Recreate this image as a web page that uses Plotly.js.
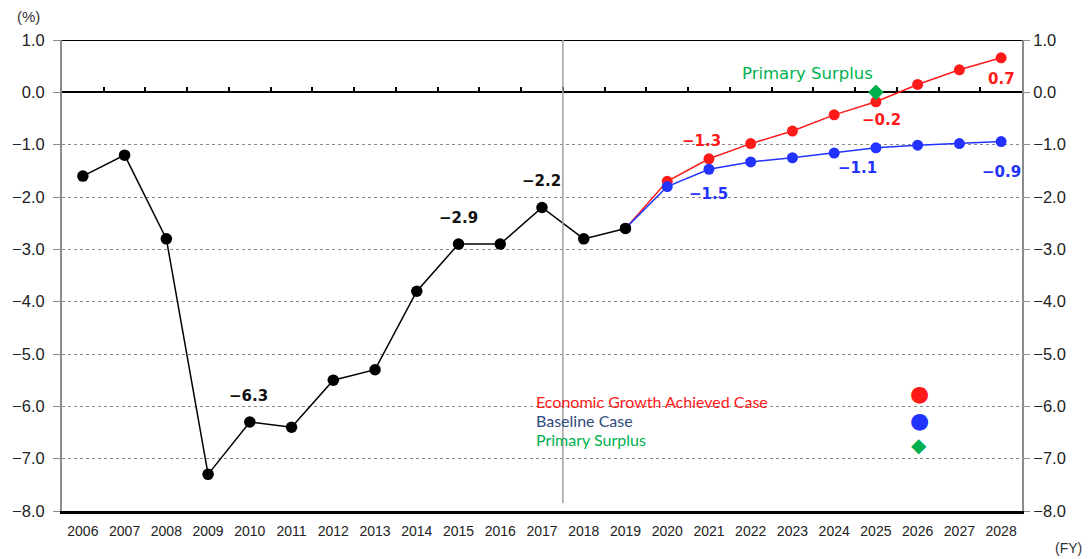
<!DOCTYPE html>
<html>
<head>
<meta charset="utf-8">
<script src="https://cdn.plot.ly/plotly-3.0.1.min.js"></script>
<style>html,body{margin:0;padding:0;background:#fff;}#chart{width:1088px;height:559px;}</style>
</head>
<body>
<div id="chart"></div>
<script>
var years = ['2006','2007','2008','2009','2010','2011','2012','2013','2014','2015','2016','2017','2018','2019','2020','2021','2022','2023','2024','2025','2026','2027','2028'];
var actualYears = ['2006','2007','2008','2009','2010','2011','2012','2013','2014','2015','2016','2017','2018','2019'];
var actualValues = [-1.6,-1.2,-2.8,-7.3,-6.3,-6.4,-5.5,-5.3,-3.8,-2.9,-2.9,-2.2,-2.8,-2.6];
var projYears = ['2019','2020','2021','2022','2023','2024','2025','2026','2027','2028'];
var growthValues = [-2.6,-1.7,-1.27,-0.98,-0.74,-0.43,-0.18,0.15,0.43,0.66];
var baselineValues = [-2.6,-1.8,-1.47,-1.33,-1.25,-1.16,-1.06,-1.01,-0.98,-0.94];
var surplusYear = ['2025'];
var surplusValue = [0];
var legendNames = ['Economic Growth Achieved Case','Baseline Case','Primary Surplus'];
var yTicks = [1,0,-1,-2,-3,-4,-5,-6,-7,-8];
var dividerAfterYear = '2017';

var RED = '#ff1a1a', BLUE = '#2233ff', GREEN = '#00b050', BLACK = '#000000';

function fmt(v){
  var r = Math.round(v*10)/10;
  var s = Math.abs(r).toFixed(1);
  return (r < 0 ? '\u2212' : '') + s;
}

var traces = [
  {x: projYears, y: growthValues, type:'scatter', mode:'lines+markers',
   line:{color:RED, width:1.5}, marker:{color:RED, size:11}, hoverinfo:'skip'},
  {x: projYears, y: baselineValues, type:'scatter', mode:'lines+markers',
   line:{color:BLUE, width:1.5}, marker:{color:BLUE, size:11}, hoverinfo:'skip'},
  {x: actualYears, y: actualValues, type:'scatter', mode:'lines+markers',
   line:{color:BLACK, width:1.5}, marker:{color:BLACK, size:11.5}, hoverinfo:'skip'},
  {x: surplusYear, y: surplusValue, type:'scatter', mode:'markers',
   marker:{color:GREEN, size:12, symbol:'diamond'}, hoverinfo:'skip'},
  {x: [], y: [], xaxis:'x2', yaxis:'y', type:'scatter', hoverinfo:'skip'},
  {x: [], y: [], xaxis:'x', yaxis:'y2', type:'scatter', hoverinfo:'skip'}
];

function idx(arr, yr){ return arr.indexOf(yr); }

var labelFont = 'DejaVu Sans, Liberation Sans, sans-serif';
var latinFont = 'Liberation Sans, Arial, sans-serif';
var labels = [
  {arr: actualValues, yrs: actualYears, yr:'2010', color:'#111', dx:-1, dy:26},
  {arr: actualValues, yrs: actualYears, yr:'2015', color:'#111', dx:0, dy:26},
  {arr: actualValues, yrs: actualYears, yr:'2017', color:'#111', dx:-1, dy:26},
  {arr: growthValues, yrs: projYears, yr:'2021', color:RED, dx:-7, dy:18},
  {arr: growthValues, yrs: projYears, yr:'2025', color:RED, dx:6, dy:-18},
  {arr: growthValues, yrs: projYears, yr:'2028', color:RED, dx:0, dy:-21},
  {arr: baselineValues, yrs: projYears, yr:'2021', color:BLUE, dx:0, dy:-25},
  {arr: baselineValues, yrs: projYears, yr:'2025', color:BLUE, dx:-18, dy:-20},
  {arr: baselineValues, yrs: projYears, yr:'2028', color:BLUE, dx:0, dy:-30}
];

var annotations = labels.map(function(l){
  var v = l.arr[idx(l.yrs, l.yr)];
  return {x:idx(years, l.yr), y:v, xref:'x', yref:'y', text:'<b>'+fmt(v)+'</b>', showarrow:false,
    xanchor:'center', yanchor:'middle', xshift:l.dx, yshift:l.dy,
    font:{family:labelFont, size:15, color:l.color}};
});

annotations.push({x:idx(years, surplusYear[0]), y:surplusValue[0], xref:'x', yref:'y', text:legendNames[2],
  showarrow:false, xanchor:'center', yanchor:'middle', xshift:-68, yshift:19,
  font:{family:labelFont, size:16.5, color:GREEN}});

// legend block
var legFont = 'Lato, Open Sans, sans-serif';
var legColors = [RED, '#2f4a7c', GREEN];
var legTextY = [0.2335, 0.193, 0.151];
var legSymY = [0.2505, 0.193, 0.140];
var legSym = ['\u25CF','\u25CF','\u25C6'];
var legSymColor = [RED, BLUE, GREEN];
for (var i=0;i<3;i++){
  annotations.push({x:0.492, y:legTextY[i], xref:'paper', yref:'paper', text:legendNames[i],
    showarrow:false, xanchor:'left', yanchor:'middle',
    font:{family:legFont, size:16, color:legColors[i]}});
  annotations.push({x:0.893, y:legSymY[i], xref:'paper', yref:'paper', text:legSym[i],
    showarrow:false, xanchor:'center', yanchor:'middle',
    font:{family:'DejaVu Sans, sans-serif', size: i<2 ? 22 : 20, color:legSymColor[i]}});
}

annotations.push({x:-0.035, y:1.049, xref:'paper', yref:'paper', text:'(%)', showarrow:false,
  xanchor:'center', yanchor:'middle', font:{family:latinFont, size:15, color:'#333'}});
annotations.push({x:1.048, y:-0.0786, xref:'paper', yref:'paper', text:'(FY)', showarrow:false,
  xanchor:'center', yanchor:'middle', font:{family:latinFont, size:14, color:'#333'}});

var yMin = -8, yMax = 1;
var boundaries = [];
for (var b=0; b<years.length-1; b++) boundaries.push(b+0.5);
var dividerX = idx(years, dividerAfterYear) + 0.5;

var layout = {
  width:1088, height:559,
  margin:{l:62, r:66, t:40, b:48},
  paper_bgcolor:'#ffffff', plot_bgcolor:'#ffffff',
  showlegend:false,
  xaxis:{type:'category', categoryorder:'array', categoryarray:years,
    range:[-0.5, years.length-0.5], showgrid:false, zeroline:false,
    showline:true, linecolor:'#000', linewidth:3, ticks:'', tickangle:0, ticklabelstandoff:5,
    tickfont:{family:latinFont, size:14, color:'#222'}},
  xaxis2:{overlaying:'x', anchor:'free', position:(0-yMin)/(yMax-yMin),
    range:[-0.5, years.length-0.5], showgrid:false, zeroline:false, showline:false,
    tickmode:'array', tickvals:boundaries, ticks:'inside', ticklen:5, tickwidth:2,
    tickcolor:'#000', showticklabels:false},
  yaxis:{range:[yMin, yMax], tickmode:'array', tickvals:yTicks, tickformat:'.1f',
    showgrid:true, gridcolor:'#8a8a8a', griddash:'dot', gridwidth:1,
    zeroline:true, zerolinecolor:'#000', zerolinewidth:2,
    showline:true, linecolor:'#8c8c8c', linewidth:2, ticks:'outside', ticklen:7, tickcolor:'#8c8c8c',
    ticklabelstandoff:5,
    tickfont:{family:latinFont, size:16.5, color:'#222'}},
  yaxis2:{overlaying:'y', side:'right', range:[yMin, yMax], tickmode:'array', tickvals:yTicks,
    tickformat:'.1f', showgrid:false, zeroline:false,
    showline:true, linecolor:'#8c8c8c', linewidth:2, ticks:'outside', ticklen:6, tickcolor:'#8c8c8c',
    tickfont:{family:latinFont, size:16.5, color:'#222'}},
  shapes:[
    {type:'line', xref:'paper', yref:'y', x0:0, x1:1, y0:yMax, y1:yMax, line:{color:'#000', width:2}},
    {type:'line', xref:'x', yref:'y', x0:dividerX, x1:dividerX, y0:-7.85, y1:yMax, line:{color:'#a0a0a0', width:1.5}}
  ],
  annotations:annotations
};

Plotly.newPlot('chart', traces, layout, {staticPlot:true});
</script>
</body>
</html>
